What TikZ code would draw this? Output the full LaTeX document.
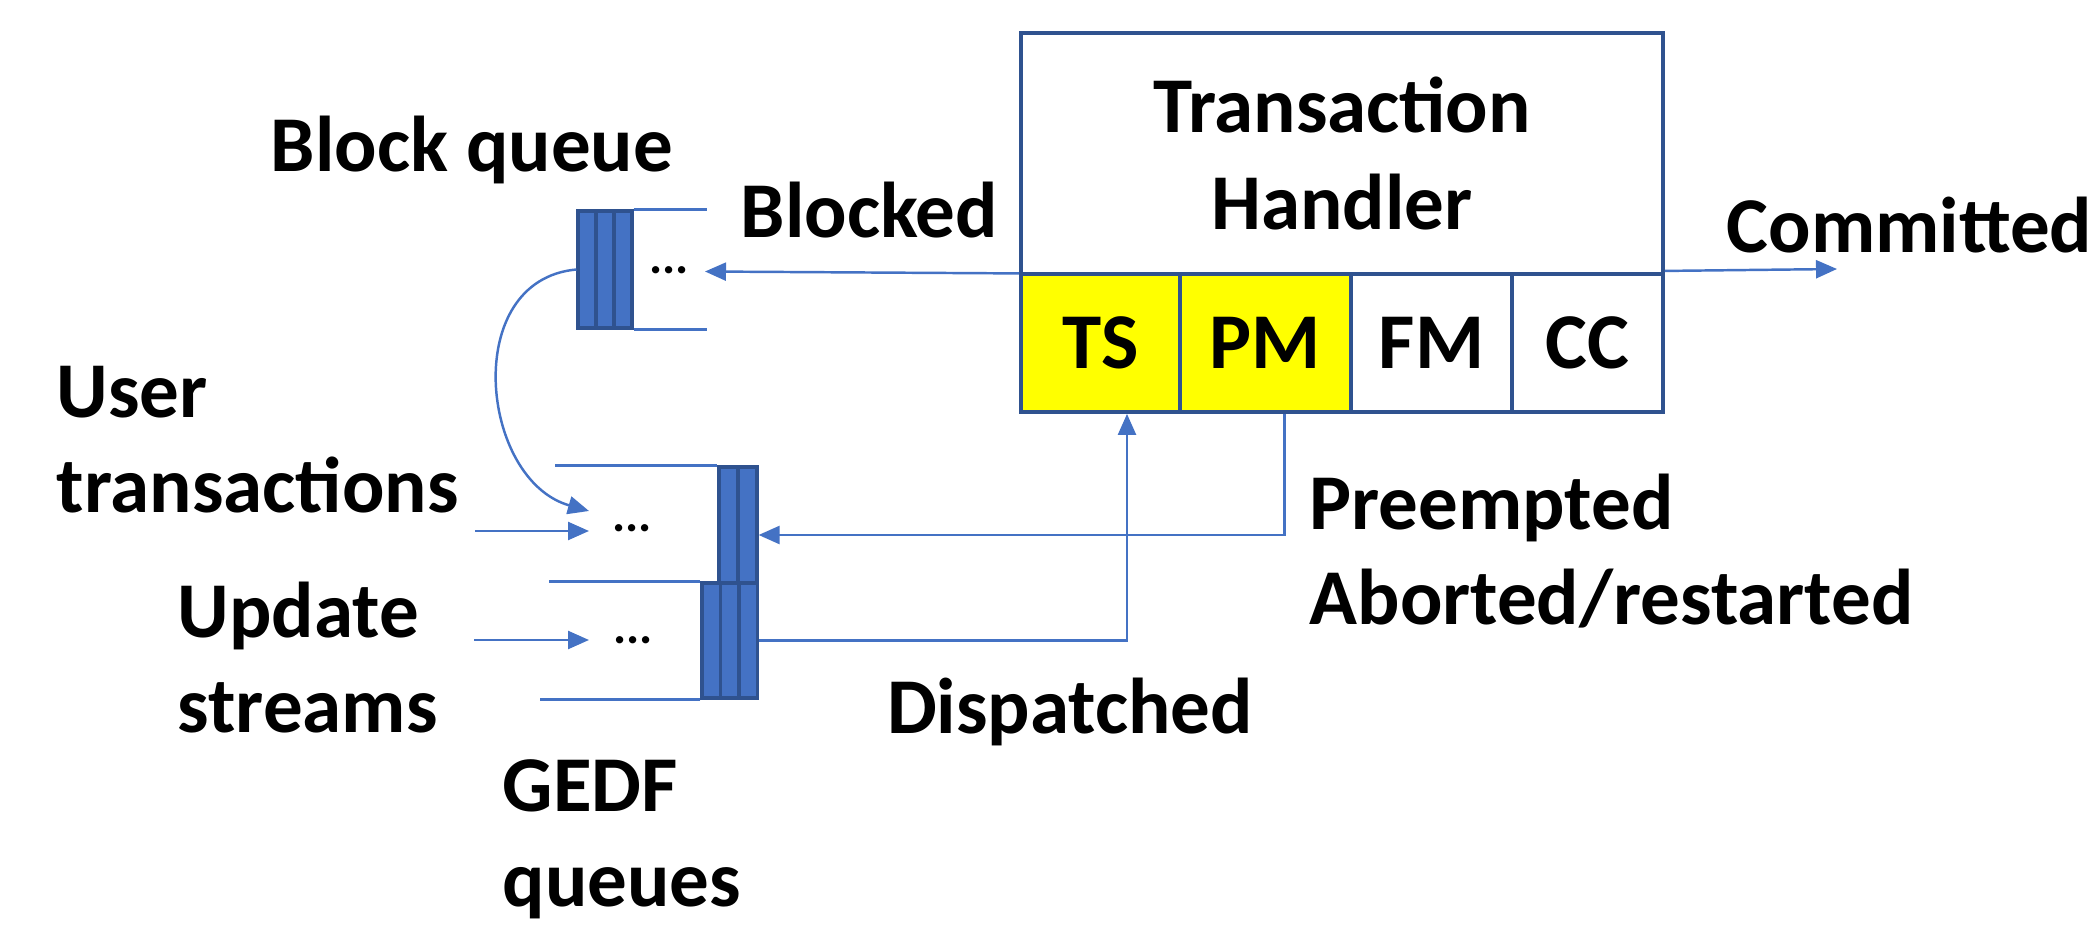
\documentclass[tikz,border=0pt]{standalone}
\usepackage{fontspec}
\setmainfont{Carlito}
\usepackage{xcolor}
\usetikzlibrary{arrows.meta,positioning}
\definecolor{flowblue}{RGB}{68,114,196}
\definecolor{edgeblue}{RGB}{47,82,143}
\definecolor{hotcell}{RGB}{255,255,0}
\tikzset{
  handler/.style={rectangle,draw=edgeblue,line width=1.1pt,inner sep=0pt,align=center,
    font=\fontsize{22.5}{27.5}\selectfont\bfseries},
  unit/.style={rectangle,draw=edgeblue,line width=1.1pt,inner sep=0pt,minimum height=1.38cm,
    font=\fontsize{22.5}{27}\selectfont\bfseries},
  slot/.style={rectangle,draw=edgeblue,fill=flowblue,line width=0.9pt,inner sep=0pt},
  rail/.style={flowblue,line width=0.7pt},
  flow/.style={-{Triangle[length=2.1mm,width=1.8mm]},flowblue,line width=0.7pt},
  tag/.style={font=\fontsize{22.5}{27}\selectfont\bfseries,inner sep=0pt,align=left},
  dots/.style={font=\fontsize{14}{16}\selectfont\bfseries,inner sep=0pt}
}

\begin{document}
\begin{tikzpicture}
  \useasboundingbox (0,0) rectangle (20.98,-9.33);

  % transaction handler and its units
  \node[handler,minimum width=6.42cm,minimum height=2.41cm] (th) at (13.42,-1.535) {Transaction\\Handler};
  \node[unit,fill=hotcell,minimum width=1.59cm] (ts) at (11.005,-3.43) {TS};
  \node[unit,fill=hotcell,minimum width=1.71cm] (pm) at (12.655,-3.43) {PM};
  \node[unit,minimum width=1.61cm] (fm) at (14.315,-3.43) {FM};
  \node[unit,minimum width=1.51cm] (cc) at (15.875,-3.43) {CC};

  % block queue
  \foreach \i/\x in {1/5.87,2/6.05,3/6.23}
    \node[slot,minimum width=0.18cm,minimum height=1.17cm] (bq\i) at (\x,-2.695) {};
  \draw[rail] (bq3.north east) -- ++(0.73,0);
  \draw[rail] (bq3.south east) -- ++(0.73,0);
  \node[dots] (bqdots) at (6.69,-2.70) {...};

  % GEDF queues
  \foreach \i/\x in {1/7.285,2/7.475}
    \node[slot,minimum width=0.19cm,minimum height=1.18cm] (gu\i) at (\x,-5.26) {};
  \foreach \i/\x in {1/7.1125,2/7.2975,3/7.4825}
    \node[slot,minimum width=0.185cm,minimum height=1.15cm] (gl\i) at (\x,-6.405) {};
  \draw[rail] (gu1.north west) -- ++(-1.62,0);
  \draw[rail] (gl1.north west) -- ++(-1.51,0);
  \draw[rail] (gl1.south west) -- ++(-1.60,0);
  \node[dots] (gudots) at (6.32,-5.28) {...};
  \node[dots] (gldots) at (6.33,-6.40) {...};

  \coordinate (blockin) at (7.05,-2.715);
  \coordinate (done) at (18.37,-2.69);
  \coordinate (usrsrc) at (4.75,-5.31);
  \coordinate (usrin) at (5.89,-5.31);
  \coordinate (updsrc) at (4.74,-6.40);
  \coordinate (updin) at (5.89,-6.40);
  \coordinate (retry) at (5.89,-5.11);

  % flows
  \draw[flow] ([yshift=0.025cm]th.south west) -- (blockin);
  \draw[flow] ([yshift=0.05cm]th.south east) -- (done);
  \draw[flow] (bq1.west) .. controls (4.6,-2.8) and (4.8,-4.8) .. (retry);
  \draw[flow] (usrsrc) -- (usrin);
  \draw[flow] (updsrc) -- (updin);
  \draw[flow] ([xshift=0.19cm]pm.south) |- ([yshift=-0.09cm]gu2.east);
  \draw[flow] (gl3.east) -| ([xshift=0.265cm]ts.south);

  % labels
  \node[tag] (bqlbl) at (4.72,-1.50) {Block queue};
  \node[tag,anchor=west] (blocked) at (7.40,-2.10) {Blocked};
  \node[tag,anchor=west] (committed) at (17.26,-2.25) {Committed};
  \node[tag,anchor=west] (user) at (0.56,-4.395) {User\\transactions};
  \node[tag,anchor=west] (update) at (1.77,-6.575) {Update\\streams};
  \node[tag,anchor=west] (gedf) at (5.02,-8.395) {GEDF\\queues};
  \node[tag,anchor=west] (preempt) at (13.09,-5.51) {Preempted\\Aborted/restarted};
  \node[tag] (dispatched) at (10.70,-7.12) {Dispatched};
\end{tikzpicture}
\end{document}
